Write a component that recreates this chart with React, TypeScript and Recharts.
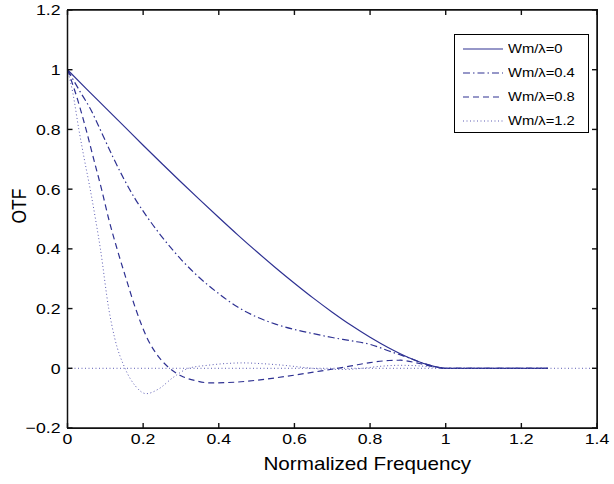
import React from "react";
import { LineChart, Line, XAxis, YAxis, ReferenceLine } from "recharts";

// ---- data ----
const seriesNames = ["Wm/λ=0", "Wm/λ=0.4", "Wm/λ=0.8", "Wm/λ=1.2"];

const freq0 = [0, 0.05, 0.1, 0.15, 0.2, 0.25, 0.3, 0.35, 0.4, 0.45, 0.5, 0.55, 0.6, 0.65, 0.7, 0.75, 0.8, 0.85, 0.9, 0.95, 1.0, 1.1, 1.2, 1.27];
const otf0 = [1, 0.936, 0.873, 0.81, 0.747, 0.685, 0.624, 0.564, 0.505, 0.447, 0.391, 0.337, 0.285, 0.235, 0.188, 0.144, 0.104, 0.068, 0.037, 0.013, 0, 0, 0, 0];

const freq04 = [0, 0.034, 0.06, 0.09, 0.12, 0.15, 0.18, 0.21, 0.24, 0.277, 0.3, 0.339, 0.4, 0.45, 0.5, 0.55, 0.6, 0.65, 0.7, 0.75, 0.8, 0.85, 0.9, 0.95, 1.0, 1.1, 1.2, 1.27];
const otf04 = [1, 0.925, 0.87, 0.79, 0.708, 0.632, 0.565, 0.508, 0.456, 0.398, 0.365, 0.315, 0.25, 0.205, 0.172, 0.148, 0.13, 0.116, 0.103, 0.092, 0.08, 0.058, 0.036, 0.013, 0, 0, 0, 0];

const freq08 = [0, 0.021, 0.049, 0.07, 0.09, 0.109, 0.131, 0.155, 0.18, 0.211, 0.24, 0.27, 0.3, 0.34, 0.376, 0.45, 0.5, 0.55, 0.6, 0.65, 0.7, 0.75, 0.8, 0.85, 0.88, 0.93, 0.97, 1.0, 1.1, 1.2, 1.27];
const otf08 = [1, 0.923, 0.8, 0.697, 0.6, 0.5, 0.4, 0.3, 0.2, 0.1, 0.04, 0, -0.025, -0.042, -0.049, -0.046, -0.04, -0.032, -0.023, -0.013, -0.003, 0.008, 0.019, 0.026, 0.027, 0.016, 0.005, 0, 0, 0, 0];

const freq12 = [0, 0.014, 0.03, 0.045, 0.06, 0.074, 0.087, 0.109, 0.125, 0.152, 0.18, 0.208, 0.24, 0.28, 0.32, 0.37, 0.42, 0.464, 0.52, 0.58, 0.63, 0.68, 0.73, 0.78, 0.83, 0.88, 0.93, 0.97, 1.0, 1.1, 1.2, 1.27];
const otf12 = [1, 0.923, 0.8, 0.697, 0.6, 0.5, 0.4, 0.2, 0.1, 0, -0.06, -0.085, -0.07, -0.03, 0, 0.01, 0.016, 0.018, 0.015, 0.009, 0.002, -0.003, -0.004, 0, 0.007, 0.01, 0.008, 0.003, 0, 0, 0, 0];

const xTicks = [0, 0.2, 0.4, 0.6, 0.8, 1, 1.2, 1.4];
const yTicks = [-0.2, 0, 0.2, 0.4, 0.6, 0.8, 1, 1.2];
const xDomain = [0, 1.4];
const yDomain = [-0.2, 1.2];

// ---- layout & styling ----
const W = 614;
const H = 484;
const MARGIN = { top: 10, right: 17, bottom: 0, left: 0 };
const Y_AXIS_W = 67.5;
const X_AXIS_H = 56;
const PLOT_LEFT = MARGIN.left + Y_AXIS_W;
const PLOT_RIGHT = W - MARGIN.right;
const PLOT_TOP = MARGIN.top;
const PLOT_BOTTOM = H - MARGIN.bottom - X_AXIS_H;
const TICK_LEN = 5;
const FRAME_W = 1.5;

const LINE_COLOR = "#2e3192";
const DOT_COLOR = "#5c5cb4";
const FONT = "'Liberation Sans', Arial, Helvetica, sans-serif";
const SX = 1.18;
const dashes = ["", "7 3 1.5 3", "6 4", "1 2.5"];
const colors = [LINE_COLOR, LINE_COLOR, LINE_COLOR, DOT_COLOR];

const toPoints = (xs: number[], ys: number[]) => xs.map((x, i) => ({ x, y: ys[i] }));
const allSeries = [
  toPoints(freq0, otf0),
  toPoints(freq04, otf04),
  toPoints(freq08, otf08),
  toPoints(freq12, otf12),
];

const fmt = (v: number) => {
  const s = String(Math.round(v * 10) / 10);
  return s.startsWith("-") ? "\u2212" + s.slice(1) : s;
};

const XTick = (props: any) => {
  const { x, y, payload } = props;
  return (
    <g>
      <line x1={x} x2={x} y1={PLOT_BOTTOM} y2={PLOT_BOTTOM - TICK_LEN} stroke="#111" strokeWidth={1.4} />
      <line x1={x} x2={x} y1={PLOT_TOP} y2={PLOT_TOP + TICK_LEN} stroke="#111" strokeWidth={1.4} />
      <text
        transform={`translate(${x},${y}) scale(${SX},1)`}
        textAnchor="middle"
        dy="0.71em"
        fontSize={15}
        fontFamily={FONT}
        fill="#000"
      >
        {fmt(payload.value)}
      </text>
    </g>
  );
};

const YTick = (props: any) => {
  const { x, y, payload } = props;
  return (
    <g>
      <line x1={PLOT_LEFT} x2={PLOT_LEFT + TICK_LEN} y1={y} y2={y} stroke="#111" strokeWidth={1.4} />
      <line x1={PLOT_RIGHT} x2={PLOT_RIGHT - TICK_LEN} y1={y} y2={y} stroke="#111" strokeWidth={1.4} />
      <text
        transform={`translate(${x},${y}) scale(${SX},1)`}
        textAnchor="end"
        dy="0.36em"
        fontSize={15}
        fontFamily={FONT}
        fill="#000"
      >
        {fmt(payload.value)}
      </text>
    </g>
  );
};

const XLabel = (props: any) => {
  const vb = props.viewBox;
  const cx = vb.x + vb.width * 0.5 + 35;
  const cy = vb.y + 42;
  return (
    <text
      transform={`translate(${cx},${cy}) scale(${SX},1)`}
      textAnchor="middle"
      fontSize={17.5}
      fontFamily={FONT}
      fill="#000"
    >
      Normalized Frequency
    </text>
  );
};

const YLabel = (props: any) => {
  const vb = props.viewBox;
  const cx = 26;
  const cy = vb.y + vb.height / 2 - 13;
  return (
    <text
      transform={`translate(${cx},${cy}) rotate(-90) scale(1,${SX})`}
      textAnchor="middle"
      fontSize={17.5}
      fontFamily={FONT}
      fill="#000"
    >
      OTF
    </text>
  );
};

const LegendBox = () => (
  <div
    style={{
      position: "absolute",
      left: 454,
      top: 34,
      width: 135,
      height: 99,
      border: "1px solid #000",
      background: "#fff",
      boxSizing: "border-box",
      fontFamily: FONT,
    }}
  >
    {seriesNames.map((name, i) => (
      <div
        key={name}
        style={{
          position: "absolute",
          left: 8,
          top: 14 + i * 24 - 9,
          height: 18,
          display: "flex",
          alignItems: "center",
          whiteSpace: "nowrap",
        }}
      >
        <svg width={40} height={4} style={{ display: "block" }}>
          <line
            x1={0}
            y1={2}
            x2={40}
            y2={2}
            stroke={colors[i]}
            strokeWidth={1.2}
            strokeDasharray={dashes[i] || undefined}
          />
        </svg>
        <span
          style={{
            marginLeft: 5,
            fontSize: 12.5,
            display: "inline-block",
            transform: `scaleX(${SX})`,
            transformOrigin: "left center",
            color: "#000",
          }}
        >
          {name}
        </span>
      </div>
    ))}
  </div>
);

// box outline around the plot area (top and right edges of the MATLAB-style frame)
const FrameBox = () => (
  <div
    style={{
      position: "absolute",
      left: PLOT_LEFT - FRAME_W / 2,
      top: PLOT_TOP - FRAME_W / 2,
      width: PLOT_RIGHT - PLOT_LEFT + FRAME_W,
      height: PLOT_BOTTOM - PLOT_TOP + FRAME_W,
      border: `${FRAME_W}px solid #111`,
      boxSizing: "border-box",
      pointerEvents: "none",
    }}
  />
);

export default function App() {
  return (
    <div style={{ position: "absolute", left: 0, top: 0, width: W, height: H, background: "#fff" }}>
      <LineChart width={W} height={H} margin={MARGIN}>
        <XAxis
          type="number"
          dataKey="x"
          domain={xDomain}
          ticks={xTicks}
          height={X_AXIS_H}
          tickSize={0}
          tickMargin={5}
          tick={<XTick />}
          axisLine={{ stroke: "#111", strokeWidth: FRAME_W }}
          tickLine={false}
          label={<XLabel />}
        />
        <YAxis
          type="number"
          domain={yDomain}
          ticks={yTicks}
          width={Y_AXIS_W}
          tickSize={0}
          tickMargin={7}
          tick={<YTick />}
          axisLine={{ stroke: "#111", strokeWidth: FRAME_W }}
          tickLine={false}
          label={<YLabel />}
        />
        <ReferenceLine y={1.2} stroke="#111" strokeWidth={FRAME_W} ifOverflow="visible" />
        <ReferenceLine x={1.4} stroke="#111" strokeWidth={FRAME_W} ifOverflow="visible" />
        <ReferenceLine y={0} stroke={DOT_COLOR} strokeWidth={1} strokeDasharray="1 2.5" />
        {allSeries.map((data, i) => (
          <Line
            key={seriesNames[i]}
            data={data}
            dataKey="y"
            name={seriesNames[i]}
            type="monotone"
            stroke={colors[i]}
            strokeWidth={i === 3 ? 1 : 1.2}
            strokeDasharray={dashes[i] || undefined}
            dot={false}
            activeDot={false}
            isAnimationActive={false}
          />
        ))}
      </LineChart>
      <FrameBox />
      <LegendBox />
    </div>
  );
}
